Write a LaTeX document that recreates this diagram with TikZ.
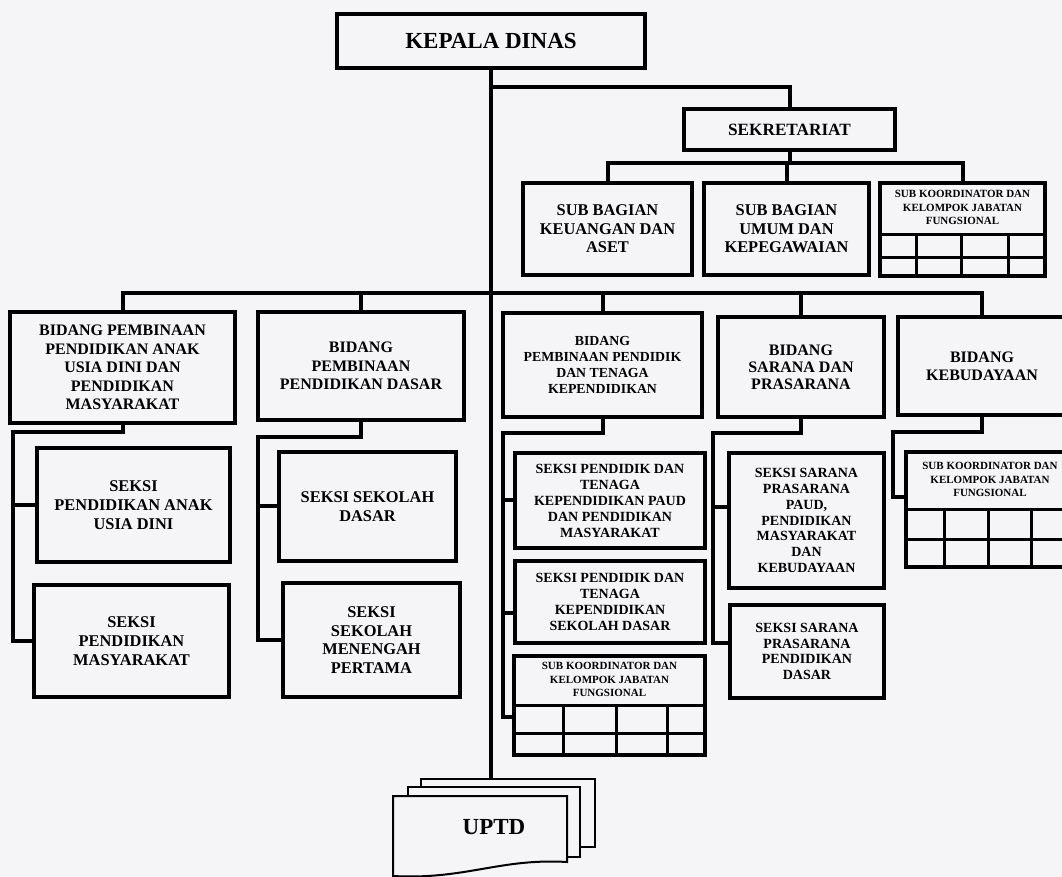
\documentclass[tikz,border=0pt]{standalone}
\usepackage{fontspec}
\setmainfont{Liberation Serif}
\usetikzlibrary{calc}
\definecolor{paper}{RGB}{245,245,247}
\newcommand{\szHead}{\fontsize{11.5}{13}\selectfont}
\newcommand{\szSek}{\fontsize{8.6}{10}\selectfont}
\newcommand{\szSub}{\fontsize{8.2}{9.2}\selectfont}
\newcommand{\szMain}{\fontsize{8}{9.3}\selectfont}
\newcommand{\szPend}{\fontsize{6.9}{8}\selectfont}
\newcommand{\szSeksi}{\fontsize{8.2}{9.4}\selectfont}
\newcommand{\szSmall}{\fontsize{7}{8}\selectfont}
\newcommand{\szTiny}{\fontsize{5.5}{6.7}\selectfont}

\begin{document}
\begin{tikzpicture}[
		x=0.5pt, y=-0.5pt,
		unitbox/.style={draw, line width=2pt, align=center, font=\bfseries\szMain, inner sep=2pt},
		gridbox/.style={draw, line width=1.8pt, inner sep=0pt},
		gridline/.style={line width=1.6pt},
		link/.style={draw, line width=2pt},
		sheet/.style={draw, line width=1pt, fill=paper, inner sep=0pt}
		]
		
		\useasboundingbox (0,0) rectangle (1062,877);
		\fill[paper] (0,0) rectangle (1062,877);
		\clip (0,0) rectangle (1062,877);
		
		% Junctions of the connectors
		\coordinate (bar0) at (491,87);
		\coordinate (bar1) at (789,163);
		\coordinate (bar2) at (491,293);
		\coordinate (r1) at (13,432);
		\coordinate (r2) at (258,437);
		\coordinate (r3) at (503,433);
		\coordinate (r4) at (713,433);
		\coordinate (r5) at (893,432);
		
		% Top
		\node[unitbox, font=\bfseries\szHead, minimum width=154pt, minimum height=27pt] (kd) at (491,41) {KEPALA DINAS};
		\node[unitbox, font=\bfseries\szSek, minimum width=105.5pt, minimum height=20.5pt] (sek) at (789.5,129.5) {SEKRETARIAT};
		
		% Sekretariat
		\node[unitbox, font=\bfseries\szSub, minimum width=84.5pt, minimum height=46pt] (sb1) at (607.5,229) {SUB BAGIAN\\KEUANGAN DAN\\ASET};
		\node[unitbox, font=\bfseries\szSub, minimum width=82.5pt, minimum height=46pt] (sb2) at (786.5,229) {SUB BAGIAN\\UMUM DAN\\KEPEGAWAIAN};
		\node[gridbox, minimum width=82.5pt, minimum height=46.5pt] (sb3) at (962.5,229.5) {};
		\node[font=\bfseries\szTiny, align=center] (sb3txt) at ($(sb3.north)+(0,26.5)$) {SUB KOORDINATOR DAN\\KELOMPOK JABATAN\\FUNGSIONAL};
		\draw[gridline] ($(sb3.north west)+(0,53)$) -- ($(sb3.north east)+(0,53)$);
		\draw[gridline] ($(sb3.south west)+(0,-20)$) -- ($(sb3.south east)+(0,-20)$);
		\foreach \cx in {38,83,130}
		\draw[gridline] ($(sb3.north west)+(\cx,53)$) -- ($(sb3.south west)+(\cx,0)$);
		
		% Bidang
		\node[unitbox, minimum width=112.5pt, minimum height=55.5pt] (b1) at (122.5,367.5) {BIDANG PEMBINAAN\\PENDIDIKAN ANAK\\USIA DINI DAN\\PENDIDIKAN\\MASYARAKAT};
		\node[unitbox, minimum width=103pt, minimum height=54pt] (b2) at (361,366) {BIDANG\\PEMBINAAN\\PENDIDIKAN DASAR};
		\node[unitbox, font=\bfseries\szPend, minimum width=99.5pt, minimum height=52pt] (b3) at (602.5,365) {BIDANG\\PEMBINAAN PENDIDIK\\DAN TENAGA\\KEPENDIDIKAN};
		\node[unitbox, font=\bfseries\fontsize{8}{8.4}\selectfont, minimum width=83pt, minimum height=50pt] (b4) at (801,367) {BIDANG\\SARANA DAN\\PRASARANA};
		\node[unitbox, font=\bfseries\fontsize{8}{9}\selectfont, minimum width=84pt, minimum height=49pt] (b5) at (982,366) {BIDANG\\KEBUDAYAAN};
		
		% Seksi under the first two Bidang
		\node[unitbox, font=\bfseries\szSeksi, minimum width=96.5pt, minimum height=57pt] (s1a) at (133.5,505) {SEKSI\\PENDIDIKAN ANAK\\USIA DINI};
		\node[unitbox, font=\bfseries\szSeksi, minimum width=97.5pt, minimum height=56pt] (s1b) at (131.5,641) {SEKSI\\PENDIDIKAN\\MASYARAKAT};
		\node[unitbox, font=\bfseries\szSeksi, minimum width=88.5pt, minimum height=54.5pt] (s2a) at (367.5,506.5) {SEKSI SEKOLAH\\DASAR};
		\node[unitbox, font=\bfseries\szSeksi, minimum width=88.5pt, minimum height=57pt] (s2b) at (371.5,640) {SEKSI\\SEKOLAH\\MENENGAH\\PERTAMA};
		
		% Seksi under Pendidik dan Tenaga Kependidikan
		\node[unitbox, font=\bfseries\szSmall, minimum width=95pt, minimum height=47.5pt] (s3a) at (610,500.5) {SEKSI PENDIDIK DAN\\TENAGA\\KEPENDIDIKAN PAUD\\DAN PENDIDIKAN\\MASYARAKAT};
		\node[unitbox, font=\bfseries\szSmall, minimum width=95pt, minimum height=41pt] (s3b) at (610,602) {SEKSI PENDIDIK DAN\\TENAGA\\KEPENDIDIKAN\\SEKOLAH DASAR};
		\node[gridbox, minimum width=95.5pt, minimum height=49.5pt] (s3c) at (609.5,705.5) {};
		\node[font=\bfseries\szTiny, align=center] (s3ctxt) at ($(s3c.north)+(0,25.5)$) {SUB KOORDINATOR DAN\\KELOMPOK JABATAN\\FUNGSIONAL};
		\draw[gridline] ($(s3c.north west)+(0,51)$) -- ($(s3c.north east)+(0,51)$);
		\draw[gridline] ($(s3c.south west)+(0,-23)$) -- ($(s3c.south east)+(0,-23)$);
		\foreach \cx in {51,104,155}
		\draw[gridline] ($(s3c.north west)+(\cx,51)$) -- ($(s3c.south west)+(\cx,0)$);
		
		% Seksi under Sarana dan Prasarana
		\node[unitbox, font=\bfseries\fontsize{7}{7.9}\selectfont, minimum width=77.5pt, minimum height=67.5pt] (s4a) at (806.5,520.5) {SEKSI SARANA\\PRASARANA\\PAUD,\\PENDIDIKAN\\MASYARAKAT\\DAN\\KEBUDAYAAN};
		\node[unitbox, font=\bfseries\fontsize{7}{7.9}\selectfont, minimum width=77pt, minimum height=46.5pt] (s4b) at (807,651.5) {SEKSI SARANA\\PRASARANA\\PENDIDIKAN\\DASAR};
		
		% Kebudayaan
		\node[gridbox, minimum width=85pt, minimum height=57.5pt] (s5) at (991,509.5) {};
		\node[font=\bfseries\szTiny, align=center] (s5txt) at ($(s5.north)+(-1,29.5)$) {SUB KOORDINATOR DAN\\KELOMPOK JABATAN\\FUNGSIONAL};
		\draw[gridline] ($(s5.north west)+(0,59)$) -- ($(s5.north east)+(0,59)$);
		\draw[gridline] ($(s5.south west)+(0,-29)$) -- ($(s5.south east)+(0,-29)$);
		\foreach \cx in {40,84,127}
		\draw[gridline] ($(s5.north west)+(\cx,59)$) -- ($(s5.south west)+(\cx,0)$);
		
		% UPTD
		\node[sheet, minimum width=87pt, minimum height=34pt] (up3) at (508,813) {};
		\node[sheet, minimum width=86pt, minimum height=35pt] (up2) at (494,822) {};
		\draw[sheet] (393,796) -- (567,796) -- (567,862) .. controls (500,858) and (465,880) .. (393,876) -- cycle;
		\node[font=\bfseries\szHead] (uptd) at (494,827) {UPTD};
		
		% Connectors
		\draw[link] (kd.south) -- (kd.south |- up3.north);
		\draw[link] (bar0) -| (sek.north);
		\draw[link] (sek.south) -- (sek.south |- bar1);
		\draw[link] (sb1.north) |- (bar1) -| (sb3.north);
		\draw[link] (sb2.north) -- (sb2.north |- bar1);
		
		\draw[link] (b1.north) |- (bar2) -| (b5.north);
		\foreach \n in {b2,b3,b4}
		\draw[link] (\n.north) -- (\n.north |- bar2);
		
		\draw[link] (b1.south) |- (r1) |- (s1b.west);
		\draw[link] (r1 |- s1a.west) -- (s1a.west);
		\draw[link] (b2.south) |- (r2) |- (s2b.west);
		\draw[link] (r2 |- s2a.west) -- (s2a.west);
		\draw[link] (b3.south) |- (r3) |- ([yshift=-5.75pt]s3c.west);
		\draw[link] (r3 |- s3a.west) -- (s3a.west);
		\draw[link] ([yshift=-5.5pt]s3b.west) -| (r3);
		\draw[link] (b4.south) |- (r4) |- ([yshift=4.25pt]s4b.west);
		\draw[link] ([yshift=6.75pt]s4a.west) -| (r4);
		\draw[link] (b5.south) |- (r5) |- ([yshift=6.25pt]s5.west);
		
	\end{tikzpicture}
\end{document}
